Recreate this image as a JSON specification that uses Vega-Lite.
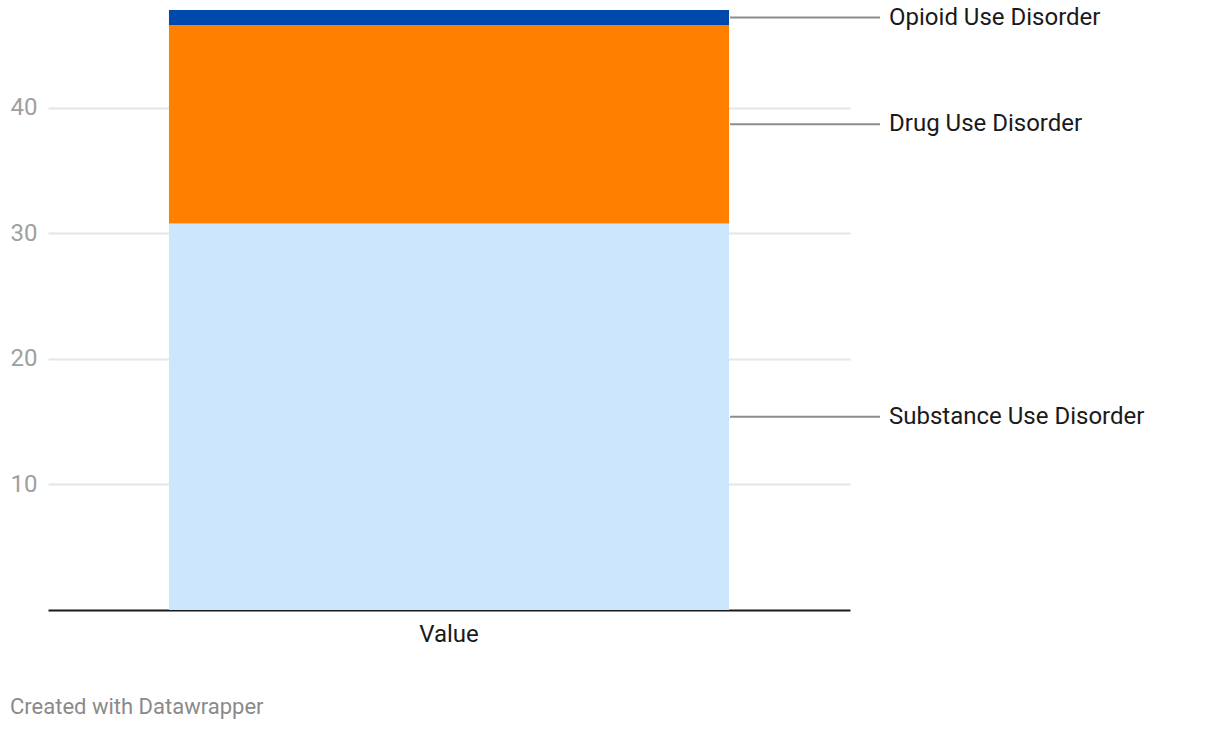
{
  "$schema": "https://vega.github.io/schema/vega-lite/v6.json",
  "width": 802,
  "height": 600,
  "padding": {"left": 10, "top": 5, "right": 5, "bottom": 5},
  "background": "white",
  "config": {"view": {"stroke": null}, "font": "Roboto"},
  "title": {"text": "Created with Datawrapper", "orient": "bottom", "anchor": "start", "frame": "bounds", "color": "#8a8a8a", "fontSize": 22, "fontWeight": "normal", "offset": 51, "font": "Roboto"},
  "data": {"values": [
    {"category": "Value", "series": "Substance Use Disorder", "value": 30.8, "order": 1},
    {"category": "Value", "series": "Drug Use Disorder", "value": 15.8, "order": 2},
    {"category": "Value", "series": "Opioid Use Disorder", "value": 1.2, "order": 3}
  ]},
  "encoding": {
    "x": {"field": "category", "type": "nominal", "scale": {"paddingInner": 0, "paddingOuter": 0.216},
      "axis": {"title": null, "labelAngle": 0, "ticks": false, "domainColor": "#1a1a1a", "domainWidth": 2, "labelFontSize": 24, "labelColor": "#1a1a1a", "labelPadding": 12, "labelFont": "Roboto"}},
    "y": {"field": "value", "type": "quantitative", "stack": "zero", "scale": {"domain": [0, 47.8], "nice": false},
      "axis": {"title": null, "values": [10, 20, 30, 40], "domain": false, "ticks": false, "gridColor": "#e5e5e5", "gridWidth": 2, "labelFontSize": 24, "labelColor": "#a0a0a0", "labelPadding": 11, "labelFont": "Roboto"}},
    "order": {"field": "order", "type": "quantitative"}
  },
  "layer": [
    {"mark": {"type": "bar"},
     "encoding": {"color": {"field": "series", "type": "nominal", "legend": null,
       "scale": {"domain": ["Substance Use Disorder", "Drug Use Disorder", "Opioid Use Disorder"], "range": ["#cce6fe", "#ff7f00", "#0049ac"]}}}},
    {"mark": {"type": "rule", "color": "#8c8c8c", "strokeWidth": 2, "xOffset": 1, "x2Offset": 151},
     "encoding": {
       "x": {"field": "category", "type": "nominal", "bandPosition": 1},
       "x2": {"field": "category", "bandPosition": 1},
       "y": {"field": "value", "type": "quantitative", "stack": "zero", "bandPosition": 0.5}
     }},
    {"mark": {"type": "text", "align": "left", "baseline": "middle", "dx": 160, "fontSize": 24, "color": "#1a1a1a", "font": "Roboto"},
     "encoding": {
       "x": {"field": "category", "type": "nominal", "bandPosition": 1},
       "y": {"field": "value", "type": "quantitative", "stack": "zero", "bandPosition": 0.5},
       "text": {"field": "series"}
     }}
  ]
}
